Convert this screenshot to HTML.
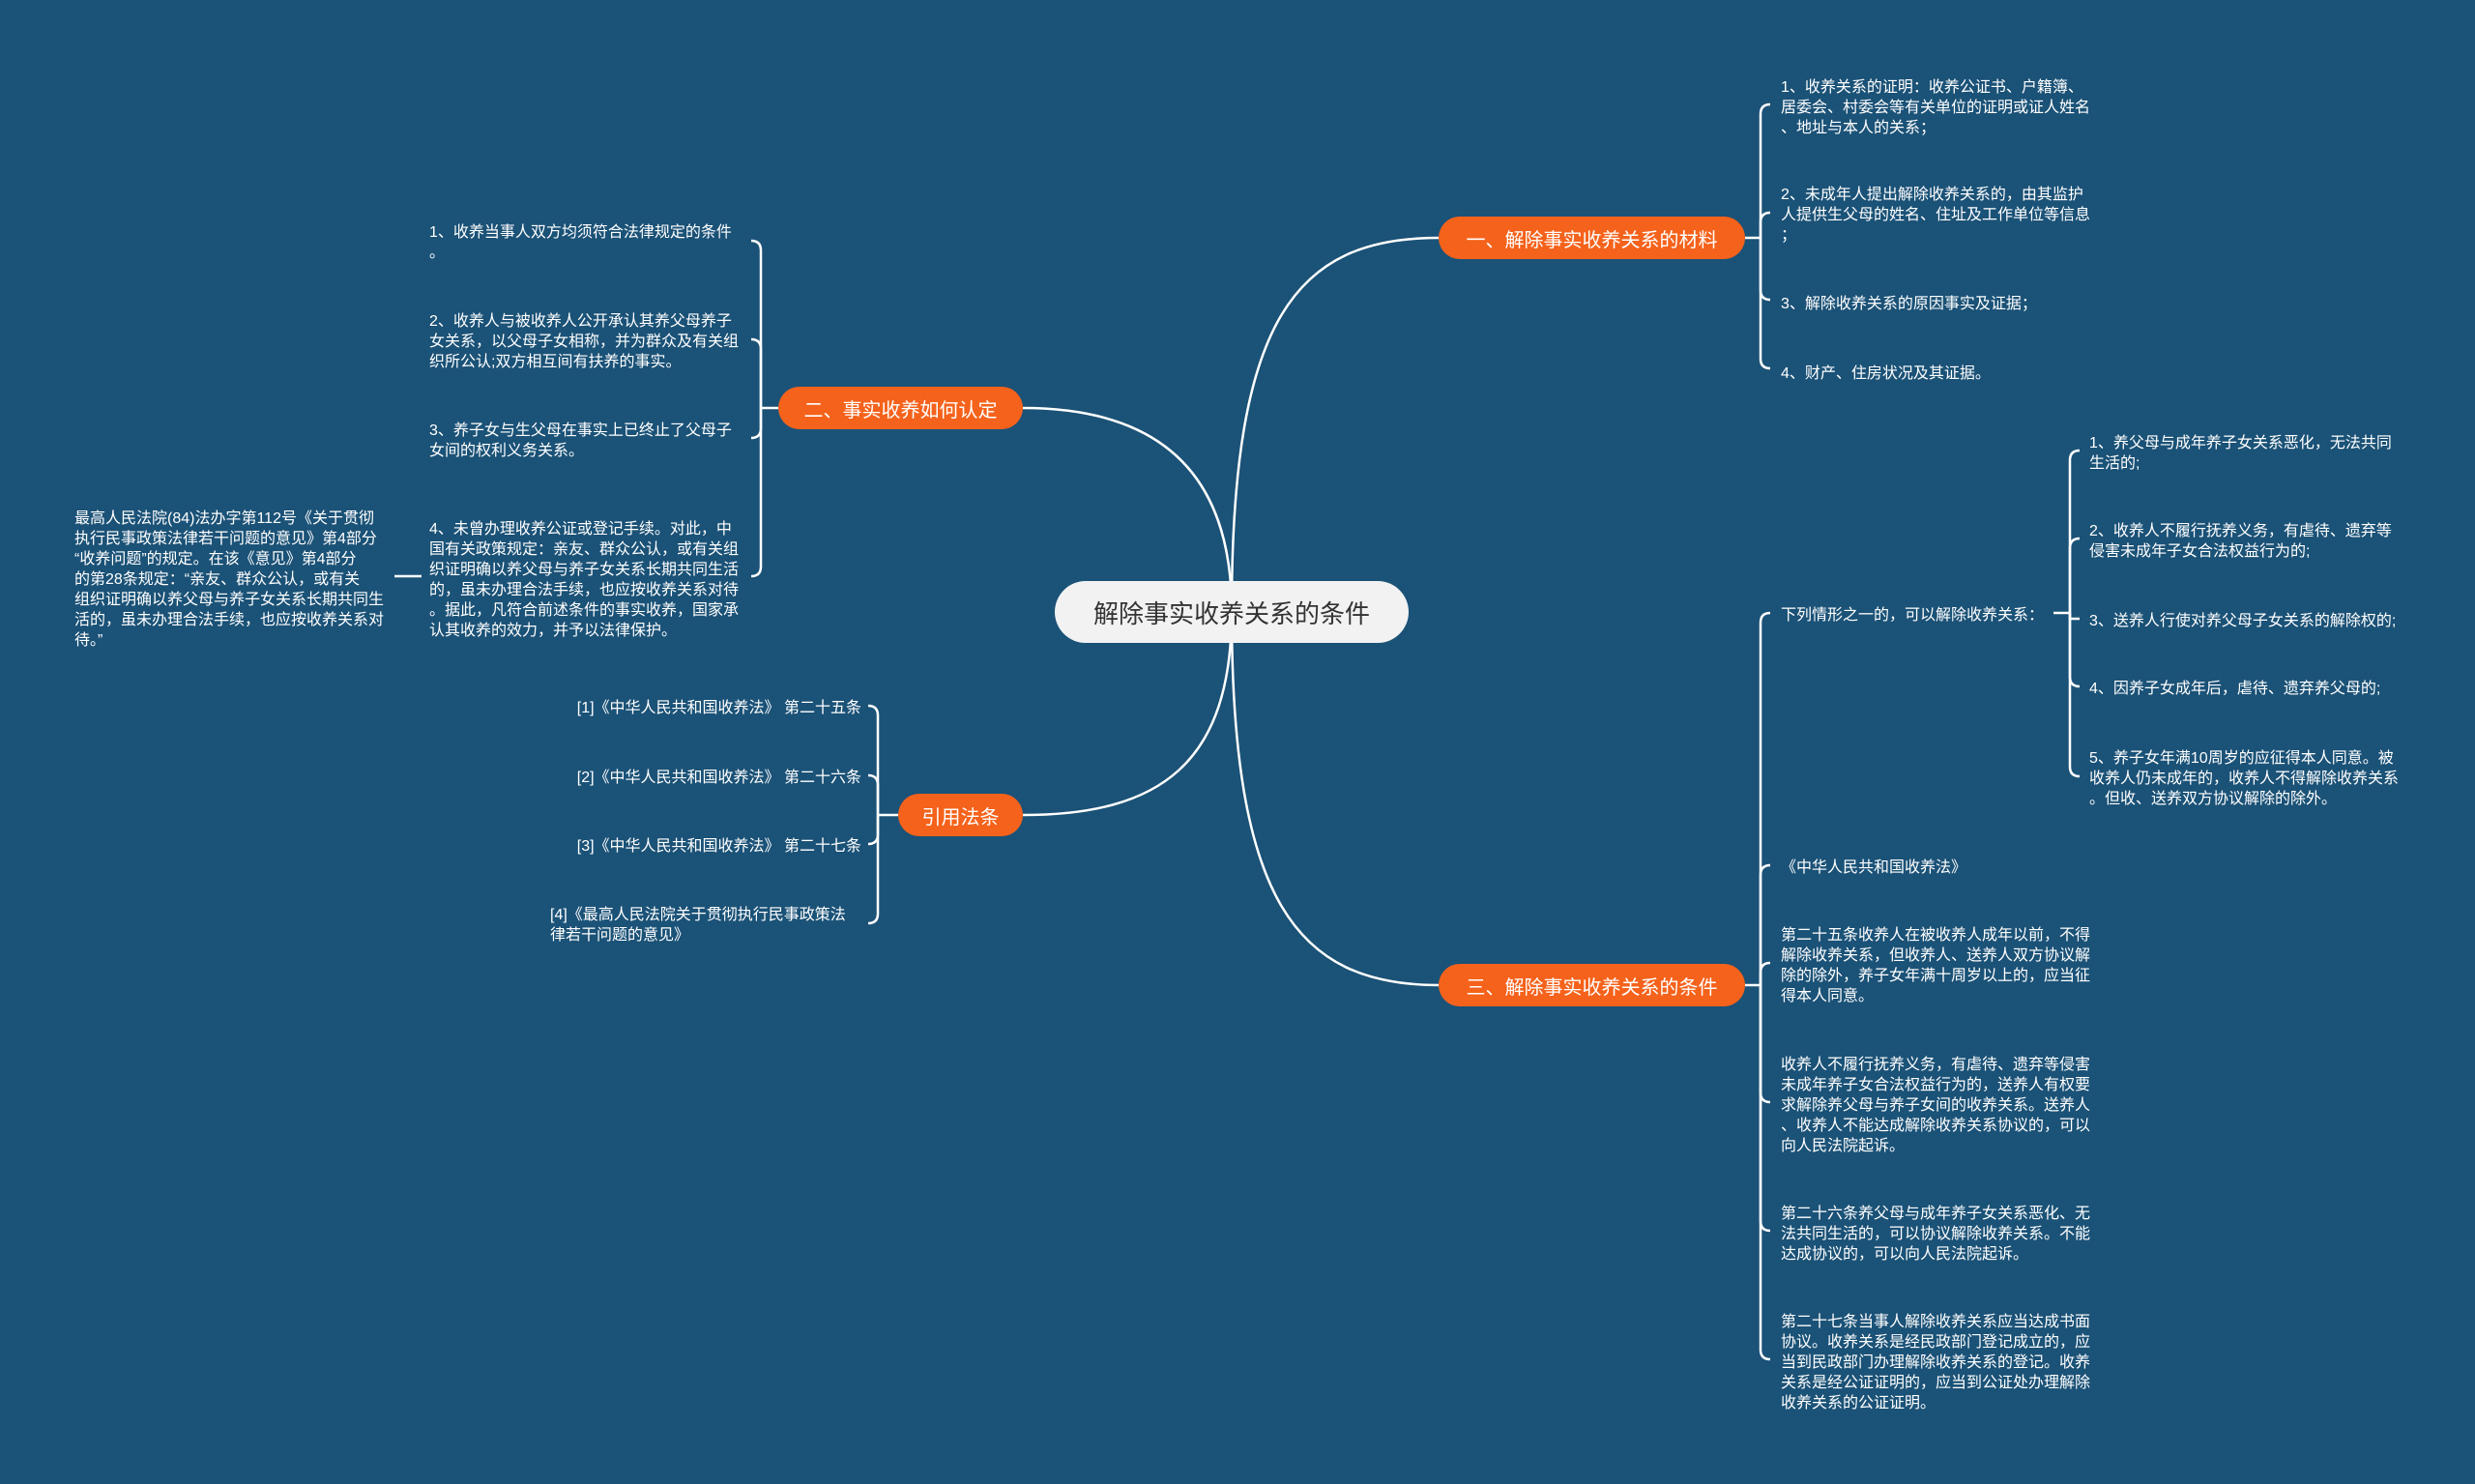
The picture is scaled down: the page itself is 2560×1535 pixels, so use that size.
<!DOCTYPE html>
<html><head><meta charset="utf-8"><style>
html,body{margin:0;padding:0}
body{width:2560px;height:1535px;background:#1b5277;position:relative;overflow:hidden;font-family:"Liberation Sans","Noto Sans CJK SC",sans-serif;}
svg{position:absolute;left:0;top:0}
.t{position:absolute;color:#fff;font-size:16px;line-height:21px;white-space:nowrap;margin-top:3px}
.n{position:absolute;background:#f5621b;color:#fff;font-size:20px;border-radius:23px;display:flex;align-items:center;justify-content:center;white-space:nowrap}
.c{position:absolute;left:1091px;top:601px;width:366px;height:64px;background:#f2f2f2;border-radius:32px;color:#333;font-size:26px;display:flex;align-items:center;justify-content:center}
.r{text-align:right}
</style></head><body>
<svg width="2560" height="1535" fill="none" stroke="#fff" stroke-width="2.5">
<path d="M1274,632 C1274,330 1340,246 1488,246"/>
<path d="M1274,632 C1274,930 1340,1019 1488,1019"/>
<path d="M1274,632 C1274,490 1200,422 1058,422"/>
<path d="M1274,632 C1274,790 1200,843 1058,843"/>
<path d="M1805,246 L1821,246"/>
<path d="M1821,246 L1821,118 Q1821,108 1831,108"/>
<path d="M1821,246 L1821,230 Q1821,220 1831,220"/>
<path d="M1821,246 L1821,300 Q1821,310 1831,310"/>
<path d="M1821,246 L1821,371 Q1821,381 1831,381"/>
<path d="M1805,1019 L1821,1019"/>
<path d="M1821,1019 L1821,644 Q1821,634 1831,634"/>
<path d="M1821,1019 L1821,905 Q1821,895 1831,895"/>
<path d="M1821,1019 L1821,1006 Q1821,996 1831,996"/>
<path d="M1821,1019 L1821,1130 Q1821,1140 1831,1140"/>
<path d="M1821,1019 L1821,1263 Q1821,1273 1831,1273"/>
<path d="M1821,1019 L1821,1396 Q1821,1406 1831,1406"/>
<path d="M2124,634 L2141,634"/>
<path d="M2141,634 L2141,476 Q2141,466 2151,466"/>
<path d="M2141,634 L2141,567 Q2141,557 2151,557"/>
<path d="M2141,634 L2141,640 L2151,640"/>
<path d="M2141,634 L2141,700 Q2141,710 2151,710"/>
<path d="M2141,634 L2141,793 Q2141,803 2151,803"/>
<path d="M805,422 L787,422"/>
<path d="M787,422 L787,259 Q787,249 777,249"/>
<path d="M787,422 L787,361 Q787,351 777,351"/>
<path d="M787,422 L787,443 Q787,453 777,453"/>
<path d="M787,422 L787,586 Q787,596 777,596"/>
<path d="M408,596 L436,596"/>
<path d="M929,843 L908,843"/>
<path d="M908,843 L908,740 Q908,730 898,730"/>
<path d="M908,843 L908,812 Q908,802 898,802"/>
<path d="M908,843 L908,863 Q908,873 898,873"/>
<path d="M908,843 L908,945 Q908,955 898,955"/>
</svg>

<div class="c">解除事实收养关系的条件</div>
<div class="n" style="left:1488px;top:224px;width:317px;height:44px">一、解除事实收养关系的材料</div>
<div class="n" style="left:1488px;top:997px;width:317px;height:44px">三、解除事实收养关系的条件</div>
<div class="n" style="left:805px;top:400px;width:253px;height:44px">二、事实收养如何认定</div>
<div class="n" style="left:929px;top:821px;width:129px;height:44px">引用法条</div>

<div class="t" style="left:1842px;top:77px">1、收养关系的证明：收养公证书、户籍簿、<br>居委会、村委会等有关单位的证明或证人姓名<br>、地址与本人的关系；</div>
<div class="t" style="left:1842px;top:188px">2、未成年人提出解除收养关系的，由其监护<br>人提供生父母的姓名、住址及工作单位等信息<br>；</div>
<div class="t" style="left:1842px;top:301px">3、解除收养关系的原因事实及证据；</div>
<div class="t" style="left:1842px;top:373px">4、财产、住房状况及其证据。</div>

<div class="t" style="left:1842px;top:623px">下列情形之一的，可以解除收养关系：</div>
<div class="t" style="left:2161px;top:445px">1、养父母与成年养子女关系恶化，无法共同<br>生活的;</div>
<div class="t" style="left:2161px;top:536px">2、收养人不履行抚养义务，有虐待、遗弃等<br>侵害未成年子女合法权益行为的;</div>
<div class="t" style="left:2161px;top:629px">3、送养人行使对养父母子女关系的解除权的;</div>
<div class="t" style="left:2161px;top:699px">4、因养子女成年后，虐待、遗弃养父母的;</div>
<div class="t" style="left:2161px;top:771px">5、养子女年满10周岁的应征得本人同意。被<br>收养人仍未成年的，收养人不得解除收养关系<br>。但收、送养双方协议解除的除外。</div>

<div class="t" style="left:1842px;top:884px">《中华人民共和国收养法》</div>
<div class="t" style="left:1842px;top:954px">第二十五条收养人在被收养人成年以前，不得<br>解除收养关系，但收养人、送养人双方协议解<br>除的除外，养子女年满十周岁以上的，应当征<br>得本人同意。</div>
<div class="t" style="left:1842px;top:1088px">收养人不履行抚养义务，有虐待、遗弃等侵害<br>未成年养子女合法权益行为的，送养人有权要<br>求解除养父母与养子女间的收养关系。送养人<br>、收养人不能达成解除收养关系协议的，可以<br>向人民法院起诉。</div>
<div class="t" style="left:1842px;top:1242px">第二十六条养父母与成年养子女关系恶化、无<br>法共同生活的，可以协议解除收养关系。不能<br>达成协议的，可以向人民法院起诉。</div>
<div class="t" style="left:1842px;top:1354px">第二十七条当事人解除收养关系应当达成书面<br>协议。收养关系是经民政部门登记成立的，应<br>当到民政部门办理解除收养关系的登记。收养<br>关系是经公证证明的，应当到公证处办理解除<br>收养关系的公证证明。</div>

<div class="t" style="left:444px;top:227px">1、收养当事人双方均须符合法律规定的条件<br>。</div>
<div class="t" style="left:444px;top:319px">2、收养人与被收养人公开承认其养父母养子<br>女关系，以父母子女相称，并为群众及有关组<br>织所公认;双方相互间有扶养的事实。</div>
<div class="t" style="left:444px;top:432px">3、养子女与生父母在事实上已终止了父母子<br>女间的权利义务关系。</div>
<div class="t" style="left:444px;top:534px">4、未曾办理收养公证或登记手续。对此，中<br>国有关政策规定：亲友、群众公认，或有关组<br>织证明确以养父母与养子女关系长期共同生活<br>的，虽未办理合法手续，也应按收养关系对待<br>。据此，凡符合前述条件的事实收养，国家承<br>认其收养的效力，并予以法律保护。</div>
<div class="t" style="left:77px;top:523px">最高人民法院(84)法办字第112号《关于贯彻<br>执行民事政策法律若干问题的意见》第4部分<br>“收养问题”的规定。在该《意见》第4部分<br>的第28条规定：“亲友、群众公认，或有关<br>组织证明确以养父母与养子女关系长期共同生<br>活的，虽未办理合法手续，也应按收养关系对<br>待。”</div>

<div class="t r" style="right:1669px;top:719px">[1]《中华人民共和国收养法》 第二十五条</div>
<div class="t r" style="right:1669px;top:791px">[2]《中华人民共和国收养法》 第二十六条</div>
<div class="t r" style="right:1669px;top:862px">[3]《中华人民共和国收养法》 第二十七条</div>
<div class="t" style="left:569px;top:933px">[4]《最高人民法院关于贯彻执行民事政策法<br>律若干问题的意见》</div>
</body></html>
